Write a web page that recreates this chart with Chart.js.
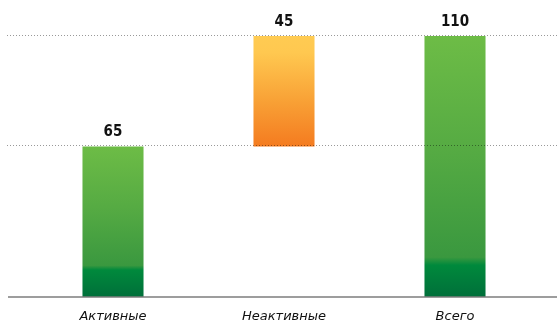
<!DOCTYPE html>
<html>
<head>
<meta charset="utf-8">
<script src="https://cdn.jsdelivr.net/npm/chart.js@4"></script>
<style>
  html, body { margin: 0; padding: 0; background: #fff; }
  #wrap { width: 557px; height: 330px; }
</style>
</head>
<body>
<div id="wrap"><canvas id="chart"></canvas></div>
<script>
// данные
const categories = ['Активные', 'Неактивные', 'Всего'];
const values = [65, 45, 110];
const isTotal = [false, false, true];
const gridValues = [65, 110];

// диапазоны для водопада
let running = 0;
const ranges = values.map((v, i) => {
    if (isTotal[i]) return [0, v];
    const r = [running, running + v];
    running += v;
    return r;
});

function barGradient(ctx) {
    const chart = ctx.chart;
    const area = chart.chartArea;
    if (!area || ctx.dataIndex === undefined) return '#5aaa44';
    const yScale = chart.scales.y;
    const r = ranges[ctx.dataIndex];
    const top = yScale.getPixelForValue(r[1]);
    const bottom = Math.min(yScale.getPixelForValue(r[0]), area.bottom);
    const h = bottom - top;
    const g = chart.ctx.createLinearGradient(0, top, 0, bottom);
    if (r[0] === 0) {
        // тёмная полоса внизу зелёных столбцов
        const brk = 1 - (0.064 * h + 20.4) / h;
        g.addColorStop(0, '#6dbc46');
        g.addColorStop(brk * 0.5, '#56ab43');
        g.addColorStop(brk - 0.01, '#3a983f');
        g.addColorStop(brk + 0.02, '#00893c');
        g.addColorStop(1, '#006f3a');
    } else {
        g.addColorStop(0, '#ffcb52');
        g.addColorStop(0.15, '#ffc850');
        g.addColorStop(0.6, '#f8a035');
        g.addColorStop(1, '#f47b20');
    }
    return g;
}

// пунктирная сетка, базовая линия и подписи значений
const gridPlugin = {
    id: 'fullGrid',
    afterDatasetsDraw(chart) {
        const c = chart.ctx;
        const y = chart.scales.y;
        c.save();
        c.strokeStyle = 'rgba(0,0,0,0.4)';
        c.lineWidth = 1;
        c.setLineDash([1, 2]);
        gridValues.forEach(v => {
            const py = Math.round(y.getPixelForValue(v)) - 0.5;
            c.beginPath();
            c.moveTo(7, py);
            c.lineTo(chart.width, py);
            c.stroke();
        });
        c.setLineDash([]);
        c.strokeStyle = '#7c7c7c';
        c.lineWidth = 1.4;
        const by = chart.chartArea.bottom;
        c.beginPath();
        c.moveTo(8, by);
        c.lineTo(chart.width, by);
        c.stroke();

        const meta = chart.getDatasetMeta(0);
        c.fillStyle = '#111';
        c.font = 'bold 15px "Liberation Sans Narrow", "DejaVu Sans Condensed", sans-serif';
        c.textAlign = 'center';
        c.textBaseline = 'alphabetic';
        meta.data.forEach((bar, i) => {
            c.fillText(String(values[i]), bar.x, bar.y - 10);
        });
        c.restore();
    }
};

new Chart(document.getElementById('chart'), {
    type: 'bar',
    data: {
        labels: categories,
        datasets: [{
            data: ranges,
            backgroundColor: barGradient,
            borderWidth: 0,
            barPercentage: 1,
            categoryPercentage: 0.357
        }]
    },
    options: {
        responsive: true,
        maintainAspectRatio: false,
        animation: false,
        layout: { padding: { left: 27.5, right: 16.5, top: 36, bottom: 0 } },
        plugins: { legend: { display: false }, tooltip: { enabled: false } },
        scales: {
            x: {
                grid: { display: false, drawTicks: false },
                border: { display: false },
                ticks: {
                    color: '#111',
                    padding: 12,
                    font: { family: '"DejaVu Sans", sans-serif', size: 13, style: 'italic' }
                },
                afterFit: (scale) => { scale.height = 33; }
            },
            y: {
                display: false,
                min: 3.6,
                max: 110
            }
        }
    },
    plugins: [gridPlugin]
});
</script>
</body>
</html>
